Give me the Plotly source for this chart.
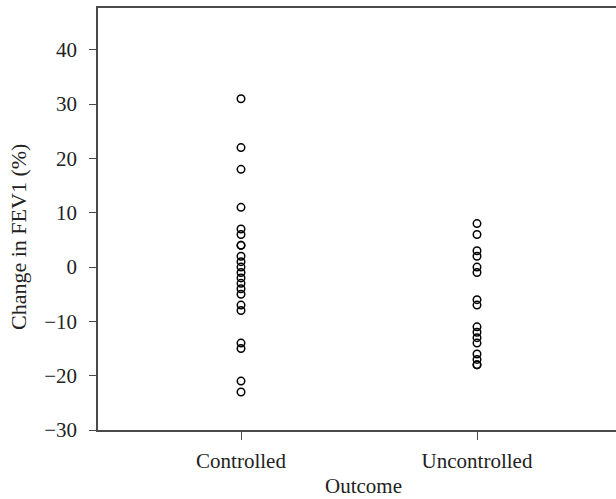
import plotly.graph_objects as go

categories = ["Controlled", "Uncontrolled"]
controlled = [31, 22, 18, 11, 7, 6, 4, 4, 2, 1, 0, -1, -2, -3, -4, -5, -7, -8, -14, -15, -21, -23]
uncontrolled = [8, 6, 3, 2, 0, -1, -6, -7, -11, -12, -13, -14, -16, -17, -18, -18]
y_ticks = [-30, -20, -10, 0, 10, 20, 30, 40]

FONT = "Liberation Serif"
AXC = "#4a4a4a"
W, H = 616, 499
l, r, t, b = 98, 0, 8, 69
pw, ph = W - l - r, H - t - b

fig = go.Figure()
for i, vals in enumerate([controlled, uncontrolled]):
    fig.add_trace(go.Scatter(
        x=[i] * len(vals), y=vals, mode="markers",
        marker=dict(symbol="circle-open", size=7.5, color="black", line=dict(width=1.5, color="black")),
        showlegend=False, cliponaxis=False, hoverinfo="skip"))

def ann(text, px, py, angle=0, size=21):
    return dict(text=text, x=(px - l) / pw, y=(H - b - py) / ph, xref="paper", yref="paper",
                xanchor="center", yanchor="middle", showarrow=False, textangle=angle,
                font=dict(size=size, family=FONT, color="#222"))

fig.update_layout(
    width=W, height=H,
    margin=dict(l=l, r=r, t=t, b=b),
    paper_bgcolor="white", plot_bgcolor="white",
    font=dict(family=FONT, size=21, color="#222"),
    xaxis=dict(range=[-0.606, 1.589], tickvals=[0, 1], ticktext=categories,
               showline=True, linecolor=AXC, linewidth=1.6, mirror=True,
               ticks="outside", ticklen=8, tickcolor=AXC, tickwidth=1.3,
               showgrid=False, zeroline=False, ticklabelstandoff=3),
    yaxis=dict(range=[-30, 47.7], tickvals=y_ticks,
               ticktext=[("\u2212" + str(-v)) if v < 0 else str(v) for v in y_ticks],
               showline=True, linecolor=AXC, linewidth=1.6, mirror=False,
               ticks="outside", ticklen=7, tickcolor=AXC, tickwidth=1.3,
               showgrid=False, zeroline=False, ticklabelstandoff=8),
    annotations=[
        ann("Change in FEV1 (%)", 18, 237, -90, 22),
        ann("Outcome", 363, 486),
    ],
)
fig.write_html("out.html", config={"displayModeBar": False},
               post_script="document.body.style.margin='0';")
